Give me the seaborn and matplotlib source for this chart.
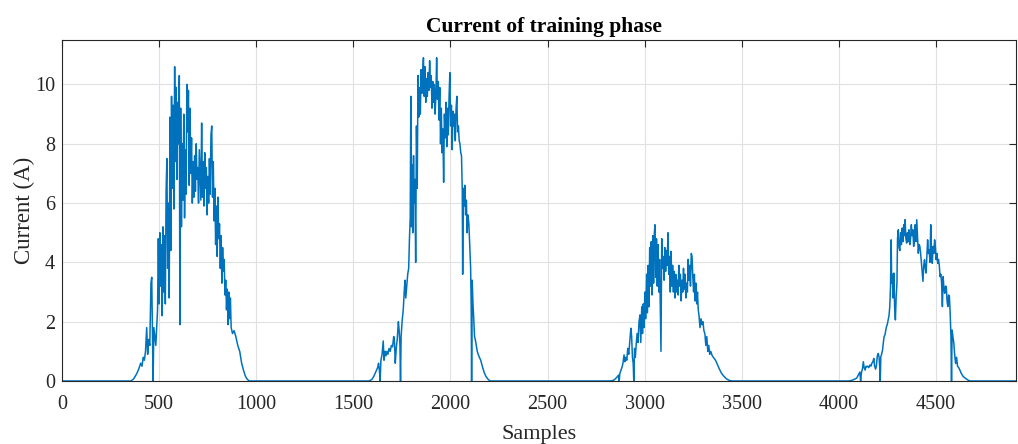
import numpy as np
import pandas as pd
import matplotlib
matplotlib.use("Agg")
import matplotlib.pyplot as plt
import seaborn as sns

# Measured current during the training phase: four charging bursts (sample index, amps)
burst1_samples = [0, 355, 370, 385, 395, 405, 412, 418, 424, 430, 436, 441, 446, 452, 458, 462, 465, 469,
                  473, 478, 483, 488, 492, 496, 500, 504, 508, 512, 516, 520, 524, 528, 532, 536, 540, 544,
                  548, 552, 556, 560, 564, 568, 572, 576, 580, 584, 588, 592, 596, 600, 604, 607, 611, 615,
                  619, 623, 627, 631, 635, 639, 643, 647, 651, 655, 659, 663, 667, 671, 675, 679, 683, 687,
                  691, 695, 699, 703, 707, 711, 715, 719, 723, 727, 731, 735, 739, 743, 747, 751, 755, 759,
                  763, 767, 771, 775, 779, 783, 787, 791, 795, 799, 803, 807, 811, 815, 819, 823, 827, 831,
                  835, 839, 843, 847, 851, 855, 859, 863, 867, 871, 878, 886, 895, 905, 915, 925, 935, 945,
                  955, 965]
burst1_current = [0, 0, 0.08, 0.25, 0.4, 0.6, 0.5, 0.8, 0.7, 1.0, 1.8, 0.9, 1.4, 1.2, 3.3, 3.5, 2.0, 0.0,
                  1.8, 1.5, 1.2, 1.9, 2.4, 4.8, 2.6, 5.0, 3.2, 4.6, 2.2, 5.2, 3.0, 4.9, 2.6, 6.4, 7.5, 3.8,
                  6.0, 2.8, 8.9, 4.4, 9.6, 6.5, 9.3, 5.8, 10.6, 7.4, 9.9, 6.8, 9.4, 8.0, 10.3, 1.9, 9.2, 5.2,
                  8.0, 6.1, 9.0, 5.5, 7.8, 6.3, 10.0, 8.4, 9.8, 6.6, 9.2, 7.0, 8.2, 6.0, 7.4, 6.2, 7.6, 6.4,
                  8.0, 6.8, 7.2, 6.0, 7.8, 6.9, 6.1, 8.7, 6.2, 7.4, 5.9, 7.7, 6.5, 7.2, 5.6, 6.9, 6.0, 7.5,
                  6.3, 8.3, 8.6, 6.2, 7.4, 5.4, 6.5, 4.6, 5.9, 4.2, 6.2, 4.8, 5.3, 3.8, 4.9, 3.3, 4.5, 3.7,
                  4.1, 2.9, 3.4, 2.4, 3.1, 1.9, 3.0, 2.1, 2.8, 1.8, 1.6, 1.7, 1.5, 1.2, 1.0, 0.6, 0.35, 0.15,
                  0.05, 0.0]

burst2_samples = [1580, 1595, 1605, 1615, 1625, 1630, 1635, 1638, 1642, 1648, 1654, 1658, 1663, 1668, 1673,
                  1678, 1684, 1690, 1696, 1702, 1708, 1712, 1716, 1721, 1726, 1732, 1736, 1740, 1743, 1746,
                  1751, 1757, 1762, 1766, 1770, 1775, 1780, 1785, 1789, 1793, 1796, 1799, 1803, 1806, 1810,
                  1813, 1817, 1821, 1825, 1829, 1833, 1837, 1841, 1845, 1849, 1853, 1857, 1861, 1865, 1869,
                  1873, 1877, 1881, 1885, 1889, 1893, 1897, 1901, 1905, 1909, 1913, 1917, 1921, 1925, 1929,
                  1933, 1937, 1941, 1945, 1949, 1953, 1957, 1961, 1965, 1969, 1973, 1977, 1981, 1985, 1989,
                  1993, 1997, 2001, 2005, 2009, 2013, 2017, 2021, 2025, 2029, 2033, 2037, 2041, 2045, 2049,
                  2053, 2057, 2061, 2063, 2066, 2070, 2074, 2078, 2082, 2086, 2090, 2095, 2100, 2104, 2107,
                  2109, 2112, 2116, 2120, 2124, 2128, 2133, 2138, 2143, 2149, 2156, 2164, 2173, 2183, 2195,
                  2205]
burst2_current = [0, 0.05, 0.15, 0.3, 0.45, 0.6, 0.3, 0.0, 0.7, 0.9, 1.35, 0.7, 1.0, 0.85, 1.0,
                  0.9, 1.1, 1.0, 1.2, 1.15, 1.5, 1.3, 0.6, 1.1, 1.4, 2.0, 1.7, 1.2, 0.0, 1.5,
                  2.0, 2.4, 3.0, 3.4, 2.8, 3.2, 3.6, 3.8, 4.8, 5.5, 9.6, 5.2, 7.3, 5.0, 7.6,
                  6.0, 6.8, 4.0, 8.6, 6.5, 10.3, 8.9, 9.9, 9.0, 10.5, 9.7, 10.4, 10.9, 9.6, 10.6,
                  9.4, 10.2, 9.6, 10.4, 9.8, 10.8, 9.9, 10.3, 9.2, 10.1, 9.4, 10.0, 9.0, 9.6, 10.9,
                  9.5, 10.1, 8.8, 9.9, 8.0, 9.2, 7.7, 8.5, 6.7, 9.0, 8.2, 9.4, 7.9, 9.2, 8.3,
                  9.6, 10.4, 8.6, 9.3, 7.8, 9.1, 8.6, 9.0, 8.1, 9.2, 9.6, 8.4, 8.6, 8.1, 8.0,
                  7.7, 7.6, 6.4, 3.6, 6.5, 5.9, 6.6, 5.6, 6.1, 5.0, 5.6, 5.3, 4.5, 3.8, 2.5,
                  0.0, 3.4, 2.6, 2.1, 1.5, 1.4, 1.2, 1.0, 0.9, 0.8, 0.7, 0.5, 0.3, 0.15, 0.05,
                  0.0]

burst3_samples = [2820, 2839, 2850, 2860, 2866, 2869, 2872, 2880, 2887, 2894, 2898, 2903, 2908, 2913, 2918,
                  2923, 2929, 2933, 2937, 2941, 2944, 2948, 2952, 2956, 2961, 2966, 2971, 2976, 2980, 2985,
                  2989, 2993, 2997, 3001, 3005, 3010, 3014, 3018, 3022, 3026, 3030, 3034, 3038, 3042, 3046,
                  3050, 3053, 3057, 3061, 3065, 3069, 3073, 3077, 3081, 3084, 3088, 3092, 3096, 3100, 3104,
                  3108, 3112, 3116, 3120, 3124, 3128, 3132, 3136, 3140, 3144, 3148, 3152, 3156, 3160, 3164,
                  3168, 3172, 3176, 3180, 3184, 3188, 3192, 3196, 3200, 3204, 3208, 3212, 3216, 3220, 3224,
                  3228, 3232, 3236, 3240, 3244, 3248, 3252, 3256, 3260, 3264, 3268, 3272, 3276, 3280, 3285,
                  3290, 3295, 3300, 3305, 3310, 3315, 3320, 3325, 3330, 3335, 3340, 3348, 3356, 3365, 3375,
                  3385, 3395, 3405, 3420, 3435, 3450]
burst3_current = [0, 0.02, 0.08, 0.15, 0.2, 0.0, 0.25, 0.4, 0.55, 0.88, 0.65, 0.8, 0.7, 1.1, 0.9,
                  1.3, 1.78, 1.5, 0.8, 0.6, 0.0, 1.1, 0.8, 1.2, 1.6, 1.3, 2.0, 2.23, 1.3, 2.5,
                  1.6, 2.6, 1.8, 3.0, 2.1, 3.6, 2.3, 3.9, 2.5, 4.5, 3.2, 4.7, 2.9, 4.9, 3.3,
                  5.0, 5.27, 3.5, 4.8, 3.2, 4.6, 3.0, 4.1, 2.4, 1.0, 4.8, 3.8, 4.2, 3.4, 4.5,
                  3.7, 4.4, 3.9, 5.0, 3.6, 4.2, 3.0, 4.37, 3.2, 3.9, 3.0, 3.7, 2.8, 3.6, 3.0,
                  3.4, 2.9, 3.9, 3.2, 3.6, 2.7, 3.4, 3.0, 3.8, 3.1, 3.6, 2.8, 3.3, 3.0, 4.1,
                  3.4, 3.9, 3.2, 4.3, 4.2, 3.5, 3.0, 3.6, 2.7, 3.3, 2.6, 3.0, 2.4, 2.2, 1.8,
                  2.1, 1.9, 2.0, 1.7, 1.6, 1.2, 1.5, 1.0, 1.2, 0.9, 1.0, 0.85, 0.78, 0.7, 0.55,
                  0.4, 0.27, 0.18, 0.08, 0.02, 0.0]

burst4_samples = [4050, 4066, 4080, 4092, 4100, 4108, 4112, 4116, 4121, 4126, 4130, 4135, 4140, 4144, 4149,
                  4154, 4160, 4165, 4170, 4175, 4180, 4184, 4189, 4193, 4198, 4203, 4207, 4210, 4213, 4216,
                  4220, 4225, 4229, 4233, 4237, 4241, 4245, 4249, 4254, 4258, 4262, 4266, 4269, 4272, 4275,
                  4279, 4283, 4287, 4291, 4295, 4299, 4302, 4306, 4310, 4314, 4318, 4322, 4326, 4330, 4334,
                  4338, 4341, 4345, 4349, 4353, 4357, 4361, 4365, 4369, 4373, 4377, 4381, 4385, 4389, 4393,
                  4397, 4401, 4405, 4409, 4413, 4417, 4421, 4425, 4429, 4433, 4437, 4441, 4445, 4449, 4453,
                  4457, 4461, 4465, 4469, 4473, 4477, 4481, 4485, 4489, 4493, 4497, 4501, 4505, 4509, 4513,
                  4517, 4521, 4525, 4529, 4533, 4537, 4541, 4545, 4549, 4553, 4557, 4561, 4565, 4569, 4573,
                  4577, 4580, 4583, 4587, 4592, 4596, 4601, 4606, 4611, 4617, 4623, 4630, 4640, 4652, 4665,
                  4675, 4912]
burst4_current = [0, 0.02, 0.06, 0.1, 0.2, 0.3, 0.0, 0.28, 0.4, 0.65, 0.45, 0.37, 0.5, 0.48, 0.5,
                  0.45, 0.54, 0.5, 0.6, 0.65, 0.76, 0.5, 0.4, 0.5, 0.85, 0.93, 0.8, 0.5, 0.0, 0.82,
                  0.9, 1.05, 1.3, 1.5, 1.55, 1.7, 1.83, 1.9, 2.06, 2.2, 2.5, 3.2, 4.76, 3.3, 3.6,
                  2.8, 3.64, 2.5, 2.06, 2.85, 3.3, 4.8, 5.1, 4.5, 4.4, 5.0, 4.6, 5.16, 4.7, 5.27,
                  4.9, 5.44, 4.8, 4.65, 5.0, 4.7, 5.1, 4.6, 4.8, 5.27, 4.9, 5.1, 4.54, 4.8, 5.27,
                  4.7, 5.44, 4.9, 4.31, 4.6, 4.54, 4.3, 4.0, 3.7, 3.36, 3.9, 4.09, 3.8, 3.64, 4.2,
                  4.76, 4.3, 4.43, 4.0, 5.27, 4.2, 3.97, 4.54, 4.3, 4.76, 4.5, 4.09, 4.3, 3.97, 4.1,
                  3.9, 3.52, 3.6, 3.3, 2.51, 3.52, 3.1, 2.96, 3.2, 3.18, 2.7, 2.51, 2.9, 2.85, 2.3,
                  1.5, 0.0, 1.72, 1.5, 1.27, 0.9, 0.59, 0.8, 0.5, 0.45, 0.37, 0.26, 0.15, 0.09, 0.03,
                  0.0, 0]

x_ticks = [0, 500, 1000, 1500, 2000, 2500, 3000, 3500, 4000, 4500]
y_ticks = [0, 2, 4, 6, 8, 10]

df = pd.DataFrame({
    "Samples": burst1_samples + burst2_samples + burst3_samples + burst4_samples,
    "Current": burst1_current + burst2_current + burst3_current + burst4_current,
})

sns.set_style("white")
plt.rcParams["font.family"] = ["Liberation Serif", "DejaVu Serif"]

fig = plt.figure(figsize=(10.18, 4.44), dpi=100)
ax = fig.add_axes([62 / 1018, 63 / 444, 954 / 1018, 341 / 444])

sns.lineplot(data=df, x="Samples", y="Current", ax=ax, estimator=None, sort=False,
             color="#0072BD", linewidth=1.1)

ax.set_xlim(0, 4912)
ax.set_ylim(0, 11.5)
ax.set_xticks(x_ticks)
ax.set_yticks(y_ticks)
ax.grid(True, color="#e1e1e1", linewidth=0.8)
ax.set_axisbelow(True)

for side in ["top", "right", "bottom", "left"]:
    ax.spines[side].set_visible(True)
    ax.spines[side].set_color("#262626")
    ax.spines[side].set_linewidth(0.8)

ax.tick_params(axis="both", direction="in", length=5, width=0.8, color="#262626",
               top=True, right=True, labelsize=14.5, labelcolor="#262626")
ax.tick_params(axis="x", pad=10)
ax.tick_params(axis="y", pad=5)

title = ax.set_title("Current of training phase", fontsize=15.5, fontweight="bold",
                     color="black", pad=6)
title.set_x(0.5047)
ax.set_xlabel("Samples", fontsize=16, color="#262626", labelpad=8)
ax.set_ylabel("Current (A)", fontsize=16.5, color="#262626", labelpad=0)

fig.savefig("out.png", dpi=100)
